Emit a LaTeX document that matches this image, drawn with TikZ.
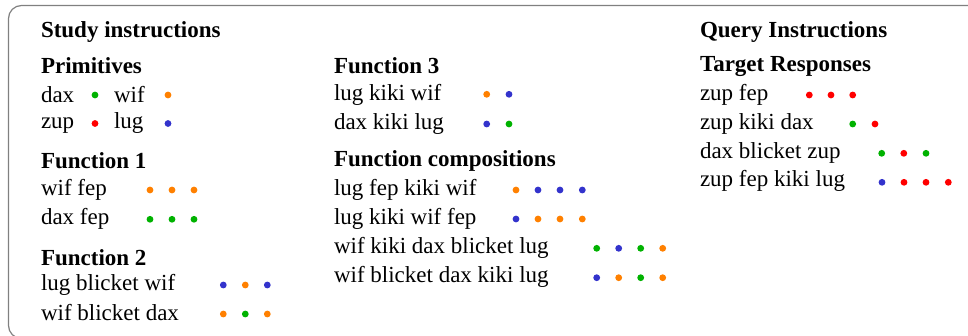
\documentclass[tikz,border=0pt]{standalone}
\usepackage{fontspec}
\setmainfont{Liberation Serif}
\definecolor{dotgreen}{RGB}{0,178,0}
\definecolor{dotorange}{RGB}{255,128,0}
\definecolor{dotred}{RGB}{255,0,0}
\definecolor{dotblue}{RGB}{51,51,204}
\definecolor{framegray}{RGB}{128,128,128}
\tikzset{
  txt/.style={anchor=base west,inner sep=0pt,outer sep=0pt,font=\fontsize{23}{27}\selectfont},
  head/.style={txt,font=\fontsize{23}{27}\selectfont\bfseries},
  dot/.style={circle,inner sep=0pt,minimum size=6.8pt,draw=none},
  G/.style={dot,fill=dotgreen},
  O/.style={dot,fill=dotorange},
  R/.style={dot,fill=dotred},
  B/.style={dot,fill=dotblue},
}
\begin{document}
\begin{tikzpicture}[x=1pt,y=-1pt]
\useasboundingbox (0,0) rectangle (968,335);
\begin{scope}
\clip (0,0) rectangle (968,335);
\draw[framegray,line width=1.2pt,rounded corners=13pt] (8.5,5.5) rectangle (1000,338.5);
\end{scope}

% ---- left column: study instructions
\node[head] (study) at (41,37) {Study instructions};
\node[head] (prim) at (41,73) {Primitives};
\node[txt] (pdax) at (41,102) {dax};
\node[G] (pdaxd) at (95,95) {};
\node[txt] (pwif) at (114,102) {wif};
\node[O] (pwifd) at (168,95) {};
\node[txt] (pzup) at (41,128) {zup};
\node[R] (pzupd) at (95,123.5) {};
\node[txt] (plug) at (114,128) {lug};
\node[B] (plugd) at (168,123.5) {};

\node[head] (fone) at (41,168) {Function 1};
\node[txt] (fa) at (41,195) {wif fep};
\node[O] (fa1) at (150,190) {};
\node[O] (fa2) at (172,190) {};
\node[O] (fa3) at (194,190) {};
\node[txt] (fb) at (41,224) {dax fep};
\node[G] (fb1) at (150,219.3) {};
\node[G] (fb2) at (172,219.3) {};
\node[G] (fb3) at (194,219.3) {};

\node[head] (ftwo) at (41,265) {Function 2};
\node[txt] (fc) at (41,290) {lug blicket wif};
\node[B] (fc1) at (223.3,285) {};
\node[O] (fc2) at (245.3,285) {};
\node[B] (fc3) at (267.3,285) {};
\node[txt] (fd) at (41,320.5) {wif blicket dax};
\node[O] (fd1) at (223.3,314) {};
\node[G] (fd2) at (245.3,314) {};
\node[O] (fd3) at (267.3,314) {};

% ---- middle column
\node[head] (fthree) at (334,73) {Function 3};
\node[txt] (fe) at (334,100) {lug kiki wif};
\node[O] (fe1) at (486.7,94.3) {};
\node[B] (fe2) at (509,94.3) {};
\node[txt] (ff) at (334,129.3) {dax kiki lug};
\node[B] (ff1) at (486.7,124) {};
\node[G] (ff2) at (509,124) {};

\node[head] (comp) at (334,166) {Function compositions};
\node[txt] (ca) at (334,195) {lug fep kiki wif};
\node[O] (ca1) at (516,190) {};
\node[B] (ca2) at (538,190) {};
\node[B] (ca3) at (560,190) {};
\node[B] (ca4) at (582.3,190) {};
\node[txt] (cb) at (334,224.3) {lug kiki wif fep};
\node[B] (cb1) at (516,219) {};
\node[O] (cb2) at (538,219) {};
\node[O] (cb3) at (560,219) {};
\node[O] (cb4) at (582.3,219) {};
\node[txt] (cc) at (334,253.3) {wif kiki dax blicket lug};
\node[G] (cc1) at (596.7,248.3) {};
\node[B] (cc2) at (618.7,248.3) {};
\node[G] (cc3) at (640.7,248.3) {};
\node[O] (cc4) at (662.7,248.3) {};
\node[txt] (cd) at (334,282.3) {wif blicket dax kiki lug};
\node[B] (cd1) at (596.7,277.7) {};
\node[O] (cd2) at (618.7,277.7) {};
\node[G] (cd3) at (640.7,277.7) {};
\node[O] (cd4) at (662.7,277.7) {};

% ---- right column: query instructions
\node[head] (query) at (700,37) {Query Instructions};
\node[head] (target) at (700,71) {Target Responses};
\node[txt] (qa) at (700,100) {zup fep};
\node[R] (qa1) at (809.3,95) {};
\node[R] (qa2) at (831,95) {};
\node[R] (qa3) at (852.7,95) {};
\node[txt] (qb) at (700,129.3) {zup kiki dax};
\node[G] (qb1) at (852.7,124) {};
\node[R] (qb2) at (875,124) {};
\node[txt] (qc) at (700,158.3) {dax blicket zup};
\node[G] (qc1) at (881.7,153.3) {};
\node[R] (qc2) at (903.8,153.3) {};
\node[G] (qc3) at (926,153.3) {};
\node[txt] (qd) at (700,186.7) {zup fep kiki lug};
\node[B] (qd1) at (882,182.3) {};
\node[R] (qd2) at (904,182.3) {};
\node[R] (qd3) at (926,182.3) {};
\node[R] (qd4) at (948.3,182.3) {};
\end{tikzpicture}
\end{document}
